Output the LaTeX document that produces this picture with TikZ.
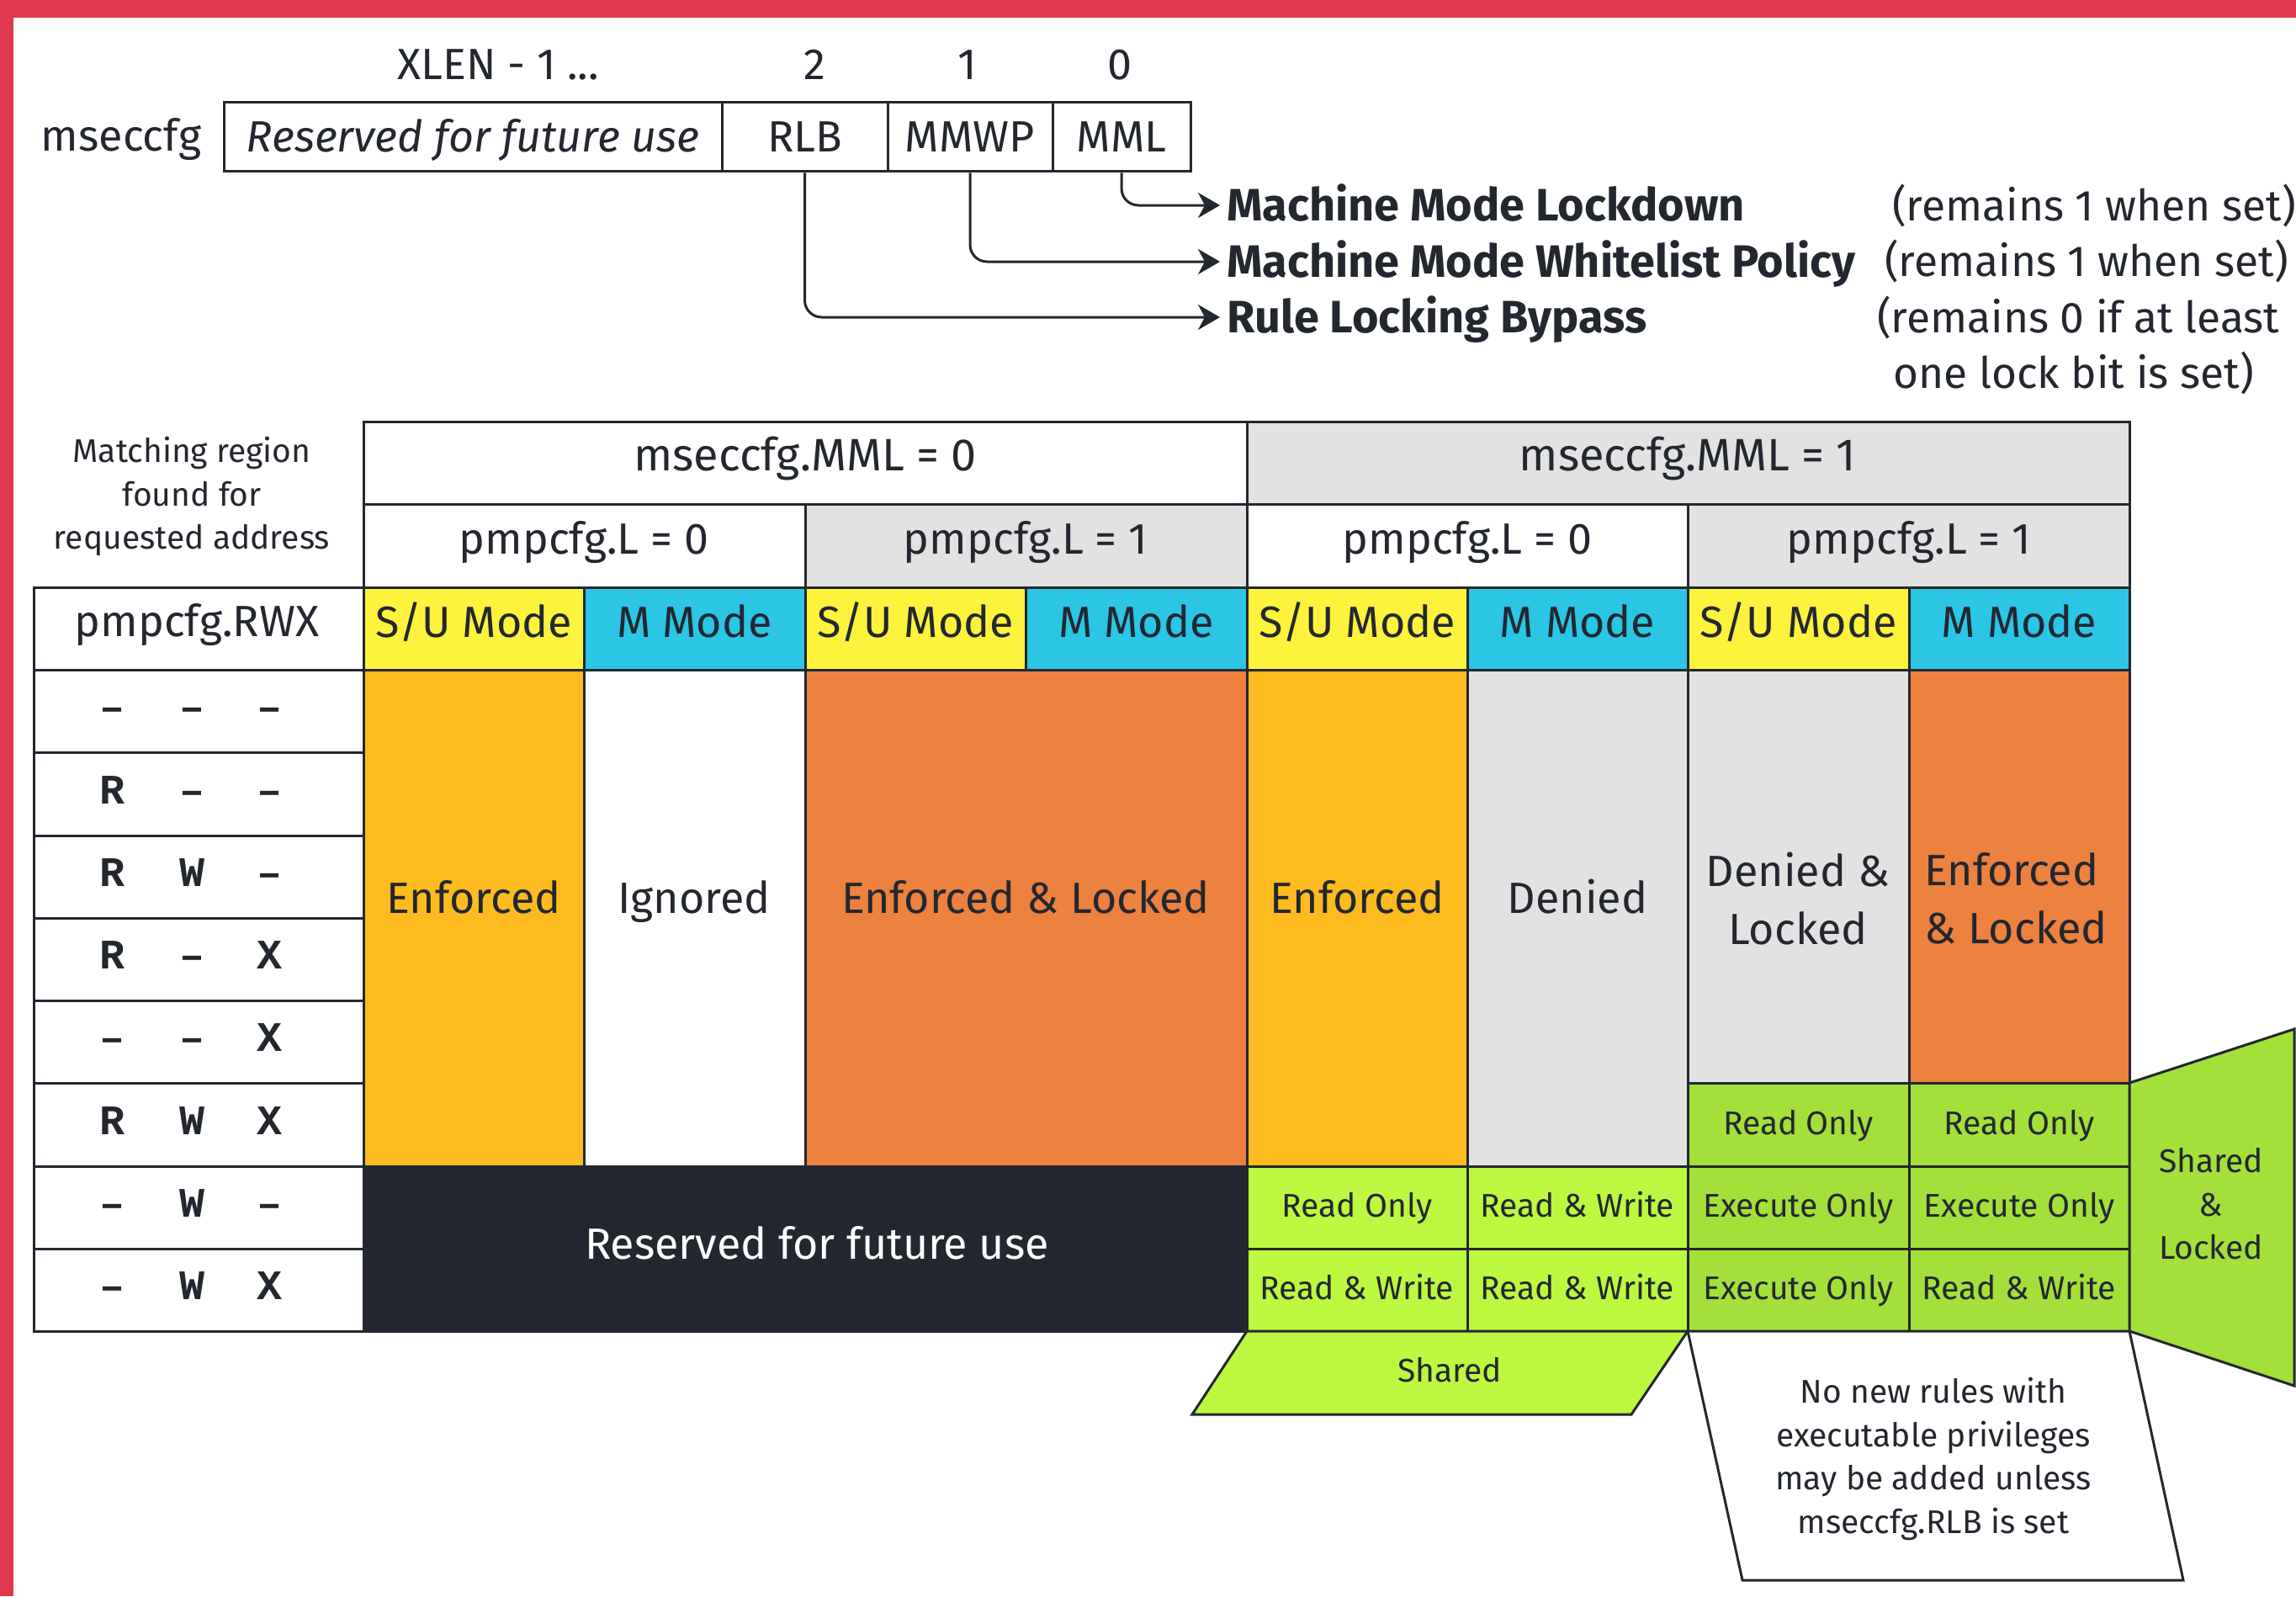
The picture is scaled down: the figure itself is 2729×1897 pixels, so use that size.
\documentclass[tikz,border=0pt]{standalone}
\usepackage{fontspec}
\setmainfont{Fira Sans}
\newfontfamily\rwxfont{Liberation Mono}
\usetikzlibrary{arrows.meta}
\definecolor{cInk}{HTML}{23272F}
\definecolor{cRed}{HTML}{E0394F}
\definecolor{cGold}{HTML}{FDBB1F}
\definecolor{cOrange}{HTML}{EC8140}
\definecolor{cGray}{HTML}{E2E2E2}
\definecolor{cLime}{HTML}{BCF83F}
\definecolor{cGreen}{HTML}{A3E03A}
\definecolor{cYellow}{HTML}{FDF23C}
\definecolor{cCyan}{HTML}{2AC6E4}
\newcommand\fsBig{\fontsize{52}{69}\selectfont}
\newcommand\fsHead{\fontsize{54}{69}\selectfont}
\newcommand\fsSmall{\fontsize{39}{51.5}\selectfont}
\newcommand\fsLbl{\fontsize{54}{60}\selectfont}
\newcommand\fsNote{\fontsize{51.5}{60}\selectfont}
\newcommand\fsMono{\fontsize{50}{60}\selectfont}
\tikzset{
  big/.style={font=\fsBig, text=cInk, inner sep=0pt, text height=36pt, text depth=0pt},
  head/.style={font=\fsHead, text=cInk, inner sep=0pt, text height=37pt, text depth=0pt},
  small/.style={font=\fsSmall, text=cInk, inner sep=0pt, text height=27pt, text depth=0pt},
  multi/.style={align=center, inner sep=0pt, text=cInk},
  grid/.style={draw=cInk, line width=3pt},
  field/.style={draw=cInk, line width=3pt, fill=white, minimum height=82pt, inner sep=0pt, font=\fsBig, text=cInk, text height=36pt, text depth=0pt},
  lbl/.style={anchor=west, font=\fsLbl\bfseries, text=cInk, inner xsep=8pt, inner ysep=0pt, text height=37pt, text depth=0pt},
  note/.style={anchor=west, font=\fsNote, text=cInk, inner sep=0pt, text height=35pt, text depth=0pt},
  rwx/.style={font=\rwxfont\bfseries\fsMono, text=cInk, inner sep=0pt, text height=29pt, text depth=0pt},
  conn/.style={draw=cInk, line width=3pt, -{Stealth[length=26pt,width=30pt,inset=8pt]}, rounded corners=20pt},
}
\begin{document}
\begin{tikzpicture}[x=1pt,y=-1pt]
\useasboundingbox (0,0) rectangle (2729,1897);
\fill[white] (0,0) rectangle (2729,1897);
\fill[cRed] (0,0) rectangle (2729,21);
\fill[cRed] (0,0) rectangle (16,1897);

% bit numbers
\node[big] (bxlen) at (592,77) {XLEN - 1 ...};
\node[big] (b2) at (968,77) {2};
\node[big] (b1) at (1150,77) {1};
\node[big] (b0) at (1331,77) {0};

% register
\node[big] (mreg) at (144,162) {mseccfg};
\node[field, minimum width=592pt, font=\fsBig\itshape] (fres) at (562,163) {Reserved for future use};
\node[field, minimum width=197pt] (frlb) at (956.5,163) {RLB};
\node[field, minimum width=196pt] (fmmwp) at (1153,163) {MMWP};
\node[field, minimum width=164pt] (fmml) at (1333,163) {MML};

% labels and connectors
\node[lbl] (lml) at (1450,244) {Machine Mode Lockdown};
\node[lbl] (lmw) at (1450,311) {Machine Mode Whitelist Policy};
\node[lbl] (lrb) at (1450,377) {Rule Locking Bypass};
\draw[conn] (fmml.south) |- (lml.west);
\draw[conn] (fmmwp.south) |- (lmw.west);
\draw[conn] (frlb.south) |- (lrb.west);

\node[note] (n1) at (2249,245) {(remains 1 when set)};
\node[note] (n2) at (2240,311) {(remains 1 when set)};
\node[note] (n3) at (2231,378) {(remains 0 if at least};
\node[note] (n4) at (2250,444) {one lock bit is set)};

% table header
\node[multi, font=\fsSmall] (match) at (228,590) {Matching region\\found for\\requested address};
\path[grid, fill=white] (432,501) rectangle (1482,599);
\node[head] (mml0) at (957,541) {mseccfg.MML = 0};
\path[grid, fill=cGray] (1482,501) rectangle (2531,599);
\node[head] (mml1) at (2006,541) {mseccfg.MML = 1};

\path[grid, fill=white] (432,599) rectangle (957,698);
\node[big] (l00) at (694,640) {pmpcfg.L = 0};
\path[grid, fill=cGray] (957,599) rectangle (1482,698);
\node[big] (l01) at (1219,640) {pmpcfg.L = 1};
\path[grid, fill=white] (1482,599) rectangle (2006,698);
\node[big] (l10) at (1744,640) {pmpcfg.L = 0};
\path[grid, fill=cGray] (2006,599) rectangle (2531,698);
\node[big] (l11) at (2269,640) {pmpcfg.L = 1};

\path[grid, fill=white] (40,698) rectangle (432,796);
\node[big] (rwxh) at (234,738) {pmpcfg.RWX};
\foreach \xa/\xb/\c/\t [count=\i] in {432/694/cYellow/S\slash U Mode, 694/957/cCyan/M Mode, 957/1219/cYellow/S\slash U Mode, 1219/1482/cCyan/M Mode, 1482/1744/cYellow/S\slash U Mode, 1744/2006/cCyan/M Mode, 2006/2269/cYellow/S\slash U Mode, 2269/2531/cCyan/M Mode}{
  \path[grid, fill=\c] (\xa,698) rectangle (\xb,796);
  \node[big] (mode\i) at ({(\xa+\xb)/2},739) {\t};
}

% rwx rows
\foreach \ya/\yb/\a/\b/\c [count=\i] in {796/894/–/–/–, 894/993/R/–/–, 993/1091/R/W/–, 1091/1189/R/–/X, 1189/1287/–/–/X, 1287/1386/R/W/X, 1386/1484/–/W/–, 1484/1582/–/W/X}{
  \path[grid, fill=white] (40,\ya) rectangle (432,\yb);
  \node[rwx] (rw\i a) at (134,{(\ya+\yb)/2-3}) {\a};
  \node[rwx] (rw\i b) at (228,{(\ya+\yb)/2-3}) {\b};
  \node[rwx] (rw\i c) at (320,{(\ya+\yb)/2-3}) {\c};
}

% data
\path[grid, fill=cGold] (432,796) rectangle (694,1386);
\node[big] (e1) at (563,1067) {Enforced};
\path[grid, fill=white] (694,796) rectangle (957,1386);
\node[big] (ign) at (825,1067) {Ignored};
\path[grid, fill=cOrange] (957,796) rectangle (1482,1386);
\node[big] (el1) at (1219,1067) {Enforced \& Locked};
\path[grid, fill=cInk] (432,1386) rectangle (1482,1582);
\node[big, text=white] (rsv) at (971,1478) {Reserved for future use};
\path[grid, fill=cGold] (1482,796) rectangle (1744,1386);
\node[big] (e2) at (1613,1067) {Enforced};
\path[grid, fill=cGray] (1744,796) rectangle (2006,1386);
\node[big] (den) at (1875,1067) {Denied};
\path[grid, fill=cGray] (2006,796) rectangle (2269,1287);
\node[multi, font=\fsBig] (dl) at (2137,1068) {Denied \&\\Locked};
\path[grid, fill=cOrange] (2269,796) rectangle (2531,1287);
\node[multi, font=\fsBig, align=left] (el2) at (2396,1068) {Enforced\\\& Locked};

\foreach \xa/\ya/\xb/\yb/\c/\t [count=\i] in {
  2006/1287/2269/1386/cGreen/Read Only,
  2269/1287/2531/1386/cGreen/Read Only,
  1482/1386/1744/1484/cLime/Read Only,
  1744/1386/2006/1484/cLime/Read \& Write,
  1482/1484/1744/1582/cLime/Read \& Write,
  1744/1484/2006/1582/cLime/Read \& Write,
  2006/1386/2269/1484/cGreen/Execute Only,
  2269/1386/2531/1484/cGreen/Execute Only,
  2006/1484/2269/1582/cGreen/Execute Only,
  2269/1484/2531/1582/cGreen/Read \& Write}{
  \path[grid, fill=\c] (\xa,\ya) rectangle (\xb,\yb);
  \node[small] (sc\i) at ({(\xa+\xb)/2},{(\ya+\yb)/2-2}) {\t};
}

% shapes below/right
\path[grid, fill=cLime] (1482,1582) -- (2006,1582) -- (1939,1681) -- (1417,1681) -- cycle;
\node[small] (shared) at (1723,1629) {Shared};
\path[grid, fill=white] (2006,1582) -- (2531,1582) -- (2595,1878) -- (2071,1878) -- cycle;
\node[multi, font=\fsSmall] (norules) at (2298,1734) {No new rules with\\executable privileges\\may be added unless\\mseccfg.RLB is set};
\path[grid, fill=cGreen] (2531,1287) -- (2727,1223) -- (2727,1647) -- (2531,1582) -- cycle;
\node[multi, font=\fsSmall] (shlock) at (2628,1431) {Shared\\\&\\Locked};
\end{tikzpicture}
\end{document}
